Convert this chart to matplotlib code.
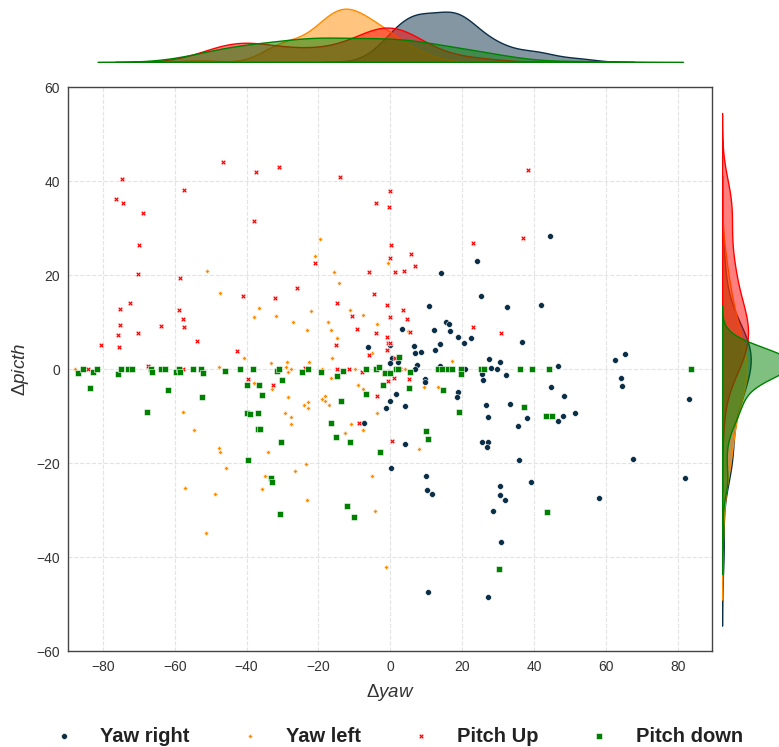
import numpy as np
import matplotlib
matplotlib.use("Agg")
import matplotlib.pyplot as plt

plt.rcParams['font.family'] = ['Liberation Sans', 'DejaVu Sans']
plt.rcParams['mathtext.fontset'] = 'custom'
plt.rcParams['mathtext.rm'] = 'Liberation Sans'
plt.rcParams['mathtext.it'] = 'Liberation Sans:italic'

labels = ["Yaw right", "Yaw left", "Pitch Up", "Pitch down"]
colors = ["#0b2e47", "#ff8c00", "#ff0000", "#008000"]
markers = ["o", "P", "X", "s"]
sizes = [18, 10, 15, 20]

yaw_right_x = [24.0, 44.4, 14.1, 25.2, 32.6, 41.9, 10.7, 15.5, 16.3, 12.2, 16.6, 3.2, 18.8, 22.4, 20.5, 13.8,
               6.5, 0.0, -6.2, 12.3, 6.9, 8.6, 0.6, 2.1, 0.0, 27.6, 30.4, 28.0, 29.6, 7.4, 13.8, 20.9, 6.8, 25.4,
               32.3, 25.7, 9.7, 9.6, 18.7, 18.5, 1.6, 0.0, -1.3, 4.0, 26.5, 33.2, 27.1, -7.2, 4.1, 0.2, 9.8, 10.1,
               11.5, 25.6, 27.3, 26.8, 30.5, 30.4, 31.9, 28.5, 30.9, 10.5, 27.2, 35.7, 35.5, 36.7, 46.7, 62.4,
               65.3, 64.3, 64.5, 44.7, 48.3, 37.9, 48.0, 51.5, 83.0, 46.8, 39.2, 58.1, 67.5, 81.9]
yaw_right_y = [23.1, 28.4, 20.4, 15.7, 13.2, 13.7, 13.5, 10.1, 9.7, 8.3, 8.1, 8.6, 6.9, 6.6, 5.6, 5.3, 4.9,
               5.2, 4.7, 4.0, 3.5, 3.7, 2.3, 1.5, 1.3, 2.2, 1.6, 0.3, 0.1, 0.9, 0.7, 0.0, 0.0, -1.1, -1.3, -2.3,
               -2.1, -2.8, -4.8, -5.9, -5.3, -6.7, -8.2, -7.8, -7.7, -7.4, -10.1, -11.5, -16.0, -20.9, -22.6,
               -25.6, -26.6, -15.5, -15.4, -16.6, -24.9, -26.7, -27.9, -30.1, -36.7, -47.4, -48.5, -19.4, -12.0,
               5.8, 0.6, 2.0, 3.2, -1.8, -3.5, -3.8, -5.6, -10.3, -9.9, -9.4, -6.3, -10.9, -24.0, -27.4, -19.1,
               -23.1]

yaw_left_x = [-51.0, -47.5, -36.4, -38.0, -31.8, -40.8, -33.3, -28.8, -28.9, -28.6, -47.7, -87.8, -38.0, -33.0,
              -28.6, -57.7, -29.3, -54.6, -47.8, -47.5, -34.0, -45.8, -34.8, -35.6, -57.0, -48.9, -51.4, -27.7,
              -19.5, -21.0, -15.8, -14.4, -0.7, -22.2, -27.2, -11.1, -7.6, -17.4, -23.2, -16.4, -3.8, -14.8,
              -16.2, -5.0, 4.8, 17.3, -22.5, -27.5, -19.1, -9.9, -2.0, 1.2, 4.2, -16.6, -9.1, -7.5, 13.2, 9.4,
              -22.9, -24.1, -22.9, -19.1, -18.2, -18.3, -17.1, -27.5, -3.6, -10.9, -7.7, -12.7, 8.1, -26.6,
              -23.5, -5.1, -23.3, -4.3, -1.3]
yaw_left_y = [20.9, 16.3, 13.0, 11.2, 11.3, 2.4, 1.3, 1.6, 0.5, -0.6, 0.5, 0.1, -2.9, -4.1, -6.0, -9.0, -9.4,
              -13.0, -16.7, -17.6, -17.6, -21.1, -22.8, -25.5, -25.3, -26.5, -34.8, -11.6, 27.8, 24.0, 20.7,
              18.4, 22.7, 12.4, 10.1, 12.7, 11.6, 10.1, 8.3, 8.4, 9.6, 6.7, 2.5, 3.5, 8.2, 1.8, 1.5, 0.0, 0.1,
              0.0, -1.1, 0.3, 0.0, -1.8, -3.3, -4.2, -3.8, -3.7, -7.0, -7.7, -8.2, -6.3, -6.7, -5.7, -7.7, -10.1,
              -9.2, -11.6, -12.9, -13.5, -17.0, -21.6, -20.1, -22.6, -27.8, -30.1, -42.0]

pitch_up_x = [-46.5, -37.3, -31.0, -74.6, -57.4, -76.4, -74.4, -68.8, -38.0, -69.8, -70.2, -58.6, -41.1, -32.0,
              -72.3, -75.2, -58.7, -57.7, -57.4, -75.1, -75.7, -70.3, -63.8, -80.4, -75.6, -53.7, -42.7, -67.4,
              -84.2, -57.6, -39.7, -32.6, -14.0, 0.0, -4.1, -0.4, 0.3, 22.9, 5.8, 0.0, -21.0, 6.8, -5.8, 1.2,
              3.8, -26.0, -4.6, -14.9, -0.8, 3.6, -10.6, 0.0, 4.6, -9.2, -4.0, 5.6, 22.9, 30.9, -15.2, -1.0,
              -0.6, -0.2, -1.0, -5.9, 1.3, -23.8, -14.7, -11.5, -7.9, 2.8, -0.6, 0.9, 5.2, -3.8, -8.8, 0.5,
              38.3, 36.9]
pitch_up_y = [44.2, 42.0, 43.0, 40.4, 38.1, 36.2, 35.3, 33.2, 31.5, 26.5, 20.3, 19.5, 15.7, 15.2, 14.0, 12.8,
              12.6, 10.7, 9.0, 9.4, 7.2, 7.8, 9.3, 5.2, 4.7, 6.0, 3.8, 0.7, 0.1, 0.0, -2.1, -3.3, 40.9, 38.0,
              35.4, 34.5, 26.5, 26.8, 24.6, 23.6, 22.6, 22.0, 20.8, 20.8, 20.9, 17.2, 16.1, 14.2, 13.6, 12.6,
              11.3, 11.2, 10.8, 8.5, 7.8, 7.9, 9.1, 7.7, 5.2, 6.9, 5.7, 5.5, 4.0, 3.0, 2.5, 0.3, 0.0, 0.0, -0.6,
              0.0, -2.4, -1.9, -2.1, -5.7, -11.5, -15.2, 42.3, 28.0]

pitch_down_x = [-87.0, -85.5, -82.6, -81.6, -75.9, -74.8, -73.1, -72.0, -66.6, -66.2, -63.8, -62.8, -59.7,
                -58.7, -58.4, -54.9, -52.7, -52.1, -45.9, -41.7, -38.2, -31.6, -31.0, -24.7, -22.9, -19.3,
                -14.7, -13.1, -6.7, -4.0, -3.1, -1.4, -0.1, 1.6, 2.1, 2.4, 5.4, 13.2, 14.5, 16.0, 17.1, 19.8,
                19.8, 25.1, 26.0, 36.0, 39.5, 44.2, 83.7, -83.7, -30.2, -40.0, -36.5, -35.8, -61.8, -52.3,
                -67.6, -39.8, -39.0, -36.7, -36.8, -36.3, -30.3, -39.6, -33.3, -33.0, -30.7, -2.0, 5.1, 14.6,
                -6.8, -13.7, 19.1, -16.5, -15.0, -11.3, -2.8, 10.0, 10.6, -12.1, -10.0, 30.3, 37.1, 43.3, 44.9,
                43.7]
pitch_down_y = [-0.8, 0.0, -0.6, 0.0, -0.9, 0.0, 0.0, 0.0, 0.0, -0.6, 0.0, 0.0, -0.6, 0.0, -0.6, 0.0, 0.0,
                -0.7, -0.3, 0.0, 0.0, -0.4, 0.0, -0.6, 0.0, -0.6, -1.4, -0.4, 0.0, 0.0, 0.5, -0.7, -0.7, 0.0,
                0.0, 2.6, -0.6, 0.0, 0.0, 0.0, 0.0, 0.0, -0.9, 0.0, 0.0, 0.0, 0.0, 0.0, 0.0, -3.9, -2.2, -3.3,
                -3.3, -5.5, -4.3, -5.9, -9.0, -9.2, -9.5, -9.2, -12.8, -12.8, -15.5, -19.2, -23.2, -23.9, -30.8,
                -3.3, -3.9, -4.3, -5.2, -6.8, -9.1, -11.5, -14.4, -15.5, -17.7, -13.2, -14.8, -29.1, -31.5,
                -42.5, -8.0, -10.0, -10.0, -30.4]

xs = [yaw_right_x, yaw_left_x, pitch_up_x, pitch_down_x]
ys = [yaw_right_y, yaw_left_y, pitch_up_y, pitch_down_y]


def kde(vals, n_total, cut=3, gridsize=200):
    # gaussian kde, scott bandwidth, scaled by group share (common norm)
    vals = np.asarray(vals, dtype=float)
    n = len(vals)
    bw = np.std(vals, ddof=1) * n ** (-0.2)
    grid = np.linspace(vals.min() - cut * bw, vals.max() + cut * bw, gridsize)
    z = (grid[:, None] - vals[None, :]) / bw
    dens = np.exp(-0.5 * z ** 2).sum(axis=1) / (n * bw * np.sqrt(2 * np.pi))
    return grid, dens * n / n_total


W, H = 779, 747
fig = plt.figure(figsize=(W / 100, H / 100), dpi=100)

jl, jr, jt, jb = 68.3, 712.3, 87.3, 651.3
ax = fig.add_axes([jl / W, 1 - jb / H, (jr - jl) / W, (jb - jt) / H])
ax_top = fig.add_axes([jl / W, 1 - 62 / H, (jr - jl) / W, 56 / H])
ax_right = fig.add_axes([722 / W, 1 - jb / H, (W - 722) / W, (jb - jt) / H])

handles = []
for x, y, lab, c, m, s in zip(xs, ys, labels, colors, markers, sizes):
    h = ax.scatter(x, y, s=s, marker=m, c=c, edgecolors="white", linewidths=0.4, label=lab, zorder=3)
    handles.append(h)

ax.set_xlim(-89.6, 89.6)
ax.set_ylim(-60, 60)
ax.set_xticks([-80, -60, -40, -20, 0, 20, 40, 60, 80])
ax.set_yticks([-60, -40, -20, 0, 20, 40, 60])
ax.grid(True, linestyle="--", color="#e3e3e3", linewidth=0.8, zorder=0)
ax.set_axisbelow(True)
ax.tick_params(length=0, pad=6, labelsize=10, labelcolor="#333333")
for sp in ax.spines.values():
    sp.set_color("#444444")
    sp.set_linewidth(1.0)
ax.set_xlabel(r"$\Delta yaw$", fontsize=13.5, color="#333333", labelpad=6)
ax.set_ylabel(r"$\Delta picth$", fontsize=13.5, color="#333333", labelpad=4)

n_total = sum(len(v) for v in xs)

# top marginal
top_max = 0
for x, c in zip(xs, colors):
    g, d = kde(x, n_total)
    ax_top.fill_between(g, 0, d, facecolor=matplotlib.colors.to_rgba(c, 0.5), edgecolor=c, linewidth=1)
    top_max = max(top_max, d.max())
ax_top.set_ylim(0, top_max * 1.05)
ax_top.axis("off")

# right marginal
red_max = 0
for y, c in zip(ys, colors):
    g, d = kde(y, n_total)
    ax_right.fill_betweenx(g, 0, d, facecolor=matplotlib.colors.to_rgba(c, 0.5), edgecolor=c, linewidth=1)
    if c == "#ff0000":
        red_max = d.max()
ax_right.set_ylim(ax_right.get_ylim())
ax_right.set_xlim(0, red_max * (W - 722) / 26.0)
ax_right.axis("off")

fig.legend(handles, labels, loc="center", bbox_to_anchor=(393 / W, 1 - 736 / H), ncol=4, frameon=False,
           prop={"size": 14.5, "weight": "bold"}, labelcolor="#222222")

fig.savefig("out.png", dpi=100)
